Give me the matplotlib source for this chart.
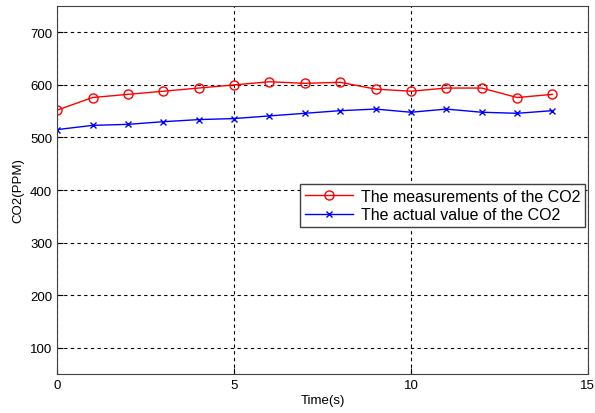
import numpy as np
import matplotlib.pyplot as plt

plt.rcParams['font.family'] = ['Liberation Sans', 'DejaVu Sans']

t = np.arange(0, 15)
measured = [552, 576, 582, 588, 594, 600, 606, 603, 605, 592, 588, 594, 594, 576, 582]
actual = [515, 523, 525, 530, 534, 536, 541, 546, 551, 554, 548, 554, 548, 546, 551]

fig = plt.figure(figsize=(5.95, 4.14), dpi=100)
ax = fig.add_axes([0.096, 0.094, 0.892, 0.889])

ax.plot(t, measured, 'r-o', mfc='none', ms=6.5, lw=1, label='The measurements of the CO2')
ax.plot(t, actual, 'b-x', ms=4, lw=1, label='The actual value of the CO2')

ax.set_xlim(0, 15)
ax.set_ylim(50, 750)
ax.set_xticks([0, 5, 10, 15])
ax.set_yticks([100, 200, 300, 400, 500, 600, 700])
ax.grid(True, color='black', linestyle=(0, (3, 3)), linewidth=0.8)
ax.tick_params(direction='in', labelsize=9.5, length=4)
for s in ax.spines.values():
    s.set_color('#404040')

ax.set_xlabel('Time(s)', fontsize=9.5, labelpad=2)
ax.set_ylabel('CO2(PPM)', fontsize=9.5, labelpad=4)

leg = ax.legend(loc='upper right', bbox_to_anchor=(0.994, 0.516), borderaxespad=0,
                fontsize=11.5, fancybox=False, framealpha=1, edgecolor='#404040',
                borderpad=0.3, handlelength=3, labelspacing=0.2, handletextpad=0.5)

fig.savefig('out.png', dpi=100)
